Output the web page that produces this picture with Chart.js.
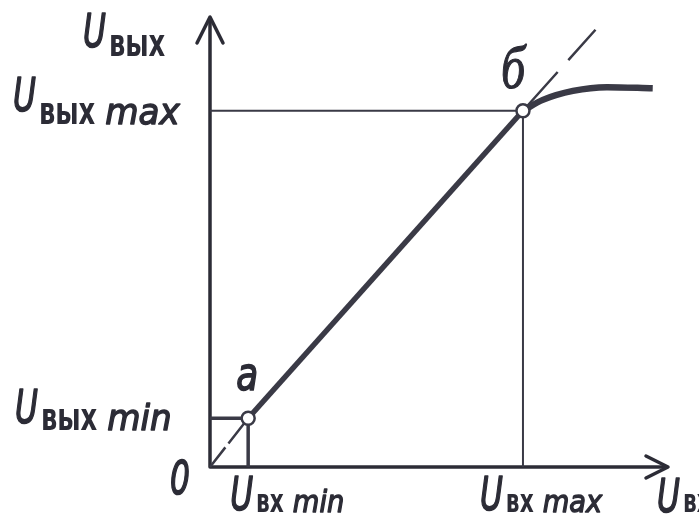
<!DOCTYPE html>
<html>
<head>
<meta charset="utf-8">
<script src="https://cdn.jsdelivr.net/npm/chart.js@4"></script>
<style>
  html, body { margin: 0; padding: 0; background: #fff; }
  canvas { display: block; }
</style>
</head>
<body>
<canvas id="chart" width="699" height="526"></canvas>
<script>
(function () {

  // working points: a = (Uвх min, Uвых min), б = (Uвх max, Uвых max)
  const pointNames = ["a", "б"];
  const inputPoints = [1.0, 8.2];
  const outputPoints = [1.3, 9.5];

  // saturation above б
  const saturationX = [8.2, 8.72, 9.51, 10.4, 11.6];
  const saturationY = [9.5, 9.79, 10.03, 10.13, 10.1];

  // dashed continuation of the linear part past б
  const extensionEnd = [10.1, 11.66];

  const axisMax = [12, 12];
  const tickSuffixes = ["min", "max"];
  const inputName = "вх";
  const outputName = "вых";

  const ink = "#2c2c36";
  const lineInk = "#3a3a46";

  const uFont = 'italic 46px "DejaVu Sans"';
  const subFontY = 'bold 38px "DejaVu Sans"';
  const subFontX = 'bold 32px "DejaVu Sans"';
  const suffixFontY = 'italic 36px "DejaVu Sans"';
  const suffixFontX = 'italic 31px "DejaVu Sans"';

  function xy(xs, ys) {
    return xs.map((x, i) => ({ x: x, y: ys[i] }));
  }

  const pA = { x: inputPoints[0], y: outputPoints[0] };
  const pB = { x: inputPoints[1], y: outputPoints[1] };

  function lineSet(data, width, extra) {
    return Object.assign({
      type: "line",
      data: data,
      borderColor: lineInk,
      borderWidth: width,
      pointRadius: 0,
      tension: 0,
      fill: false,
      clip: false,
      order: 2
    }, extra || {});
  }

  // draws text pieces one after another, each with its own font and squeeze;
  // "heavy" pieces get an outline so the thin oblique strokes read like pen lettering
  function drawParts(ctx, x, baseline, parts) {
    let cx = x;
    parts.forEach(function (p) {
      ctx.save();
      ctx.font = p.font;
      ctx.translate(cx, baseline + (p.dy || 0));
      ctx.scale(p.sx, 1);
      ctx.fillText(p.text, 0, 0);
      if (p.heavy) {
        ctx.lineWidth = p.heavy;
        ctx.lineJoin = "round";
        ctx.strokeText(p.text, 0, 0);
      }
      const w = ctx.measureText(p.text).width * p.sx;
      ctx.restore();
      cx += w + (p.gap || 0);
    });
  }

  function arrowHead(ctx, tipX, tipY, dirX, dirY, len, half) {
    const bx = tipX - dirX * len;
    const by = tipY - dirY * len;
    ctx.beginPath();
    ctx.moveTo(bx - dirY * half, by + dirX * half);
    ctx.lineTo(tipX, tipY);
    ctx.lineTo(bx + dirY * half, by - dirX * half);
    ctx.stroke();
  }

  const axesPlugin = {
    id: "axes",
    beforeDatasetsDraw(chart) {
      const ctx = chart.ctx;
      const sx = chart.scales.x;
      const sy = chart.scales.y;
      const x0 = sx.getPixelForValue(0);
      const y0 = sy.getPixelForValue(0);
      const xEnd = sx.getPixelForValue(axisMax[0]);
      const yEnd = sy.getPixelForValue(axisMax[1]);
      ctx.save();
      ctx.strokeStyle = ink;
      ctx.lineWidth = 3.5;
      ctx.lineCap = "round";
      ctx.lineJoin = "round";
      ctx.beginPath();
      ctx.moveTo(x0, yEnd + 2);
      ctx.lineTo(x0, y0);
      ctx.lineTo(xEnd - 2, y0);
      ctx.stroke();
      arrowHead(ctx, x0, yEnd, 0, -1, 26, 13);
      arrowHead(ctx, xEnd, y0, 1, 0, 22, 11);
      ctx.restore();
    }
  };

  const labelsPlugin = {
    id: "labels",
    afterDatasetsDraw(chart) {
      const ctx = chart.ctx;
      const sx = chart.scales.x;
      const sy = chart.scales.y;
      const x0 = sx.getPixelForValue(0);
      const y0 = sy.getPixelForValue(0);
      ctx.save();
      ctx.fillStyle = ink;
      ctx.strokeStyle = ink;
      ctx.textAlign = "left";
      ctx.textBaseline = "alphabetic";

      const U = { text: "U", font: uFont, sx: 0.68, gap: 3, heavy: 1.6 };

      // vertical axis title
      drawParts(ctx, x0 - 127, sy.getPixelForValue(axisMax[1]) + 30, [
        U,
        { text: outputName, font: subFontY, sx: 0.68, dy: 9 }
      ]);

      // output levels on the vertical axis
      const yLeft = [x0 - 195, x0 - 197];
      const yDrop = [5, 0];
      const ySubDy = [7, 13];
      [0, 1].forEach(function (i) {
        const py = sy.getPixelForValue(outputPoints[i]);
        drawParts(ctx, yLeft[i], py + yDrop[i], [
          U,
          { text: outputName, font: subFontY, sx: 0.68, dy: ySubDy[i], gap: 10 },
          { text: tickSuffixes[i], font: suffixFontY, sx: 0.95, dy: ySubDy[i], heavy: 1.4 }
        ]);
      });

      // input levels under the horizontal axis
      const xShift = [-18, -43];
      [0, 1].forEach(function (i) {
        const px = sx.getPixelForValue(inputPoints[i]);
        drawParts(ctx, px + xShift[i], y0 + 43, [
          U,
          { text: inputName, font: subFontX, sx: 0.68, dy: 2, gap: 9 },
          { text: tickSuffixes[i], font: suffixFontX, sx: 0.88, dy: 2, heavy: 1.4 }
        ]);
      });

      // horizontal axis title
      drawParts(ctx, sx.getPixelForValue(axisMax[0]) - 11, y0 + 45, [
        U,
        { text: inputName, font: subFontX, sx: 0.68, dy: 0 }
      ]);

      // origin
      drawParts(ctx, x0 - 40, y0 + 27, [{ text: "0", font: uFont, sx: 0.68, heavy: 1.6 }]);

      // point names
      const pa = { x: sx.getPixelForValue(pA.x), y: sy.getPixelForValue(pA.y) };
      const pb = { x: sx.getPixelForValue(pB.x), y: sy.getPixelForValue(pB.y) };
      drawParts(ctx, pa.x - 12, pa.y - 28, [{ text: pointNames[0], font: uFont, sx: 0.78, heavy: 1.6 }]);
      drawParts(ctx, pb.x - 22, pb.y - 23, [{ text: pointNames[1], font: 'italic 62px "Liberation Serif"', sx: 0.78, heavy: 1.2 }]);
      ctx.restore();
    }
  };

  const chartCanvas = document.getElementById("chart");
  new Chart(chartCanvas, {
    type: "line",
    data: {
      datasets: [
        {
          type: "scatter",
          data: [pA, pB],
          showLine: false,
          pointRadius: 6.5,
          pointBorderWidth: 2.5,
          pointBackgroundColor: "#ffffff",
          pointBorderColor: lineInk,
          clip: false,
          order: 0
        },
        lineSet([pA, pB], 5.5, { order: 1 }),
        lineSet(xy(saturationX, saturationY), 6.5, { cubicInterpolationMode: "monotone", order: 1 }),
        lineSet([pA, { x: 0, y: 0 }], 2.5, { borderDash: [32, 5] }),
        lineSet([pB, { x: extensionEnd[0], y: extensionEnd[1] }], 2.5, { borderDash: [52, 16] }),
        lineSet([{ x: 0, y: pB.y }, pB, { x: pB.x, y: 0 }], 2),
        lineSet([{ x: 0, y: pA.y }, pA, { x: pA.x, y: 0 }], 3.5)
      ]
    },
    options: {
      responsive: false,
      animation: false,
      events: [],
      layout: { padding: { left: 210, right: 31, top: 17, bottom: 59 } },
      scales: {
        x: { type: "linear", min: 0, max: axisMax[0], display: false },
        y: { type: "linear", min: 0, max: axisMax[1], display: false }
      },
      plugins: {
        legend: { display: false },
        tooltip: { enabled: false }
      }
    },
    plugins: [axesPlugin, labelsPlugin]
  });

})();
</script>
</body>
</html>
